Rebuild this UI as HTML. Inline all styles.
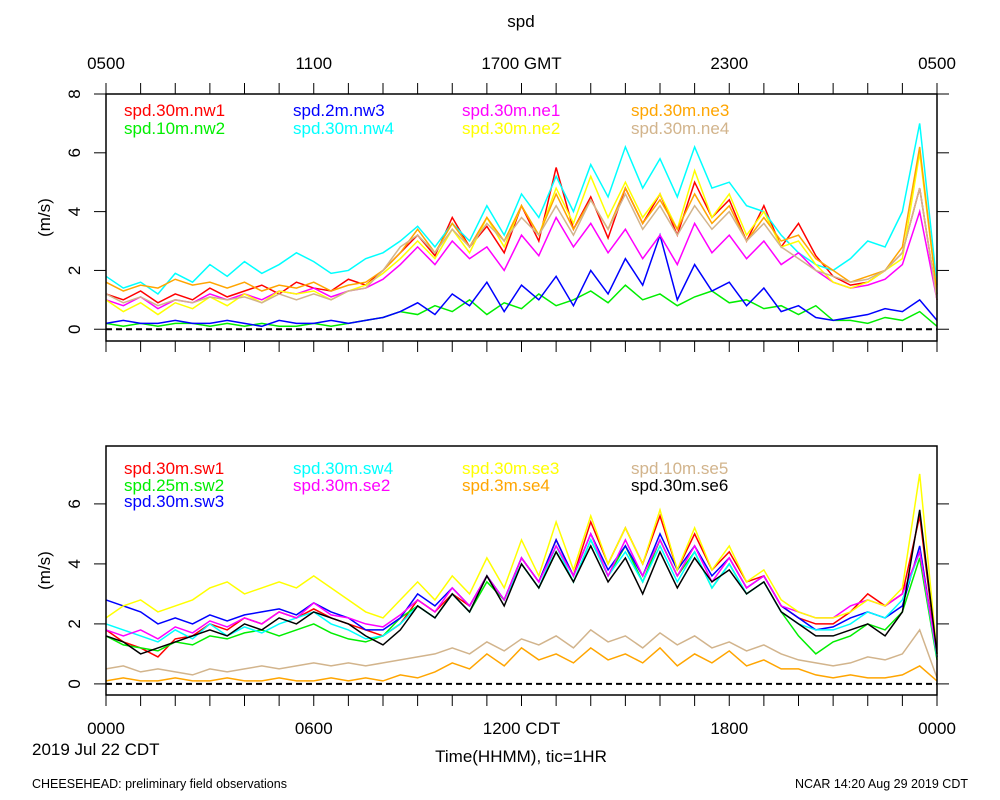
<!DOCTYPE html>
<html><head><meta charset="utf-8"><style>
body{margin:0;background:#fff}
svg{display:block;font-family:"Liberation Sans",sans-serif}
</style></head><body>
<svg id="c" width="1000" height="800"></svg>
<script>
const hours=[];for(let i=0;i<=48;i++)hours.push(i*0.5);
const xTickLabelsBottom=["0000","0600","1200 CDT","1800","0000"];
const xTickLabelsTop=["0500","1100","1700 GMT","2300","0500"];
const topYTicks=[0,2,4,6,8];
const botYTicks=[0,2,4,6];
const topNames=["spd.30m.nw1","spd.10m.nw2","spd.2m.nw3","spd.30m.nw4","spd.30m.ne1","spd.30m.ne2","spd.30m.ne3","spd.30m.ne4"];
const topColors=["#ff0000","#00ee00","#0000ff","#00ffff","#ff00ff","#ffff00","#ffa500","#d2b48c"];
const nw1=[1.2,1.0,1.3,0.9,1.2,1.0,1.4,1.1,1.3,1.5,1.2,1.6,1.4,1.3,1.7,1.5,2.0,2.6,3.2,2.5,3.8,2.8,3.5,2.6,4.2,3.0,5.5,3.4,4.5,3.1,4.8,3.6,4.6,3.2,5.0,3.8,4.4,3.0,4.2,2.8,3.6,2.5,1.8,1.5,1.6,2.0,2.6,4.8,1.0];
const nw2=[0.2,0.1,0.2,0.1,0.2,0.2,0.1,0.2,0.1,0.2,0.1,0.1,0.2,0.1,0.2,0.3,0.4,0.6,0.5,0.8,0.6,1.0,0.5,0.9,0.7,1.2,0.8,1.0,1.3,0.9,1.5,1.0,1.2,0.8,1.1,1.3,0.9,1.0,0.7,0.8,0.5,0.8,0.3,0.3,0.2,0.4,0.3,0.6,0.1];
const nw3=[0.2,0.3,0.2,0.2,0.3,0.2,0.2,0.3,0.2,0.1,0.3,0.2,0.2,0.3,0.2,0.3,0.4,0.6,0.9,0.5,1.2,0.8,1.6,0.6,1.5,1.0,1.8,0.8,2.0,1.2,2.4,1.5,3.2,1.0,2.2,1.3,1.6,0.8,1.4,0.6,0.8,0.4,0.3,0.4,0.5,0.7,0.6,1.0,0.3];
const nw4=[1.8,1.4,1.6,1.2,1.9,1.6,2.2,1.8,2.3,1.9,2.2,2.6,2.3,1.9,2.0,2.4,2.6,3.0,3.5,2.8,3.6,3.0,4.2,3.2,4.6,3.8,5.2,4.0,5.6,4.5,6.2,4.8,5.8,4.5,6.2,4.8,5.0,4.2,4.0,3.2,2.6,2.2,2.0,2.4,3.0,2.8,4.0,7.0,1.5];
const ne1=[1.0,0.8,1.1,0.7,1.0,0.9,1.2,1.0,1.2,1.0,1.3,1.2,1.4,1.1,1.3,1.4,1.7,2.2,2.8,2.2,3.0,2.4,2.8,2.0,3.2,2.5,3.8,2.8,3.6,2.6,3.4,2.4,3.2,2.2,3.6,2.6,3.2,2.4,3.0,2.2,2.6,2.0,1.6,1.4,1.5,1.7,2.2,4.0,1.0];
const ne2=[1.0,0.6,0.9,0.5,0.9,0.7,1.1,0.8,1.2,0.9,1.3,1.2,1.3,1.0,1.3,1.5,1.9,2.4,3.0,2.4,3.4,2.6,3.8,2.8,4.2,3.2,4.8,3.6,5.2,3.8,5.0,3.8,4.6,3.4,5.4,3.8,4.6,3.2,4.0,2.8,3.0,2.2,1.6,1.4,1.6,2.0,2.4,6.0,1.2];
const ne3=[1.6,1.3,1.5,1.4,1.7,1.5,1.6,1.4,1.6,1.3,1.5,1.4,1.6,1.3,1.5,1.6,2.0,2.6,3.4,2.6,3.6,2.8,3.8,3.0,4.2,3.2,4.6,3.4,4.4,3.4,4.8,3.6,4.4,3.4,4.6,3.6,4.2,3.0,3.8,3.0,3.2,2.4,2.0,1.6,1.8,2.0,2.8,6.2,1.2];
const ne4=[1.2,0.9,1.1,0.8,1.0,0.9,1.1,1.0,1.1,0.9,1.2,1.0,1.2,1.0,1.3,1.4,2.0,2.8,3.2,2.6,3.4,2.8,3.6,3.0,3.8,3.2,4.2,3.2,4.4,3.4,4.6,3.4,4.2,3.2,4.2,3.4,4.0,3.0,3.6,2.8,2.4,2.0,1.8,1.6,1.7,2.0,2.6,4.8,1.0];
const botNames=["spd.30m.sw1","spd.25m.sw2","spd.30m.sw3","spd.30m.sw4","spd.30m.se2","spd.30m.se3","spd.3m.se4","spd.10m.se5","spd.30m.se6"];
const botColors=["#ff0000","#00ee00","#0000ff","#00ffff","#ff00ff","#ffff00","#ffa500","#d2b48c","#000000"];
const sw1=[1.8,1.4,1.2,0.9,1.5,1.6,2.0,1.8,2.2,2.0,2.4,2.2,2.5,2.2,2.0,1.8,1.6,2.0,2.8,2.4,3.0,2.6,3.6,2.8,4.2,3.4,4.8,3.6,5.4,4.0,5.2,4.0,5.6,3.8,5.0,3.8,4.4,3.4,3.6,2.6,2.2,2.0,2.0,2.4,3.0,2.6,3.0,5.6,0.9];
const sw2=[1.6,1.3,1.2,1.1,1.4,1.3,1.6,1.5,1.7,1.8,1.6,1.8,2.0,1.7,1.5,1.4,1.6,2.2,2.6,2.2,3.0,2.4,3.4,2.8,4.0,3.2,4.4,3.4,4.8,3.6,4.6,3.4,4.8,3.6,4.4,3.2,4.0,3.0,3.4,2.4,1.6,1.0,1.4,1.6,2.0,1.8,2.4,4.2,0.8];
const sw3=[2.8,2.6,2.4,2.0,2.2,2.0,2.3,2.1,2.3,2.4,2.5,2.3,2.7,2.4,2.2,1.8,1.8,2.2,3.0,2.6,3.2,2.6,3.6,2.8,4.2,3.4,4.8,3.6,5.0,3.8,4.6,3.6,5.0,3.8,4.6,3.6,4.2,3.2,3.6,2.6,2.2,1.8,1.9,2.2,2.4,2.2,2.6,4.6,0.9];
const sw4=[2.0,1.8,1.6,1.4,1.8,1.5,2.0,1.6,1.9,1.7,2.0,2.2,2.4,2.0,1.8,1.5,1.6,2.0,2.6,2.2,3.0,2.4,3.6,2.8,4.0,3.2,4.6,3.4,4.8,3.6,4.4,3.4,4.6,3.4,4.4,3.2,4.0,3.0,3.4,2.4,2.0,1.8,1.8,2.0,2.4,2.2,2.8,4.4,0.9];
const se2=[1.8,1.6,1.8,1.5,1.9,1.7,2.1,1.9,2.2,2.0,2.4,2.2,2.7,2.3,2.2,2.0,1.9,2.3,2.8,2.4,3.2,2.6,3.6,2.8,4.2,3.4,4.6,3.6,5.0,3.6,4.8,3.6,4.8,3.6,4.6,3.4,4.2,3.2,3.6,2.6,2.4,2.2,2.2,2.6,2.8,2.6,3.0,4.4,1.0];
const se3=[2.2,2.6,2.8,2.4,2.6,2.8,3.2,3.4,3.0,3.2,3.4,3.2,3.6,3.2,2.8,2.4,2.2,2.8,3.4,2.8,3.6,3.0,4.2,3.2,4.8,3.6,5.4,3.8,5.6,4.0,5.2,4.0,5.8,3.8,5.2,3.8,4.6,3.4,3.8,2.8,2.4,2.2,2.2,2.4,2.8,2.6,3.2,7.0,1.0];
const se4=[0.1,0.2,0.1,0.1,0.2,0.1,0.1,0.2,0.1,0.1,0.2,0.1,0.1,0.2,0.1,0.2,0.1,0.3,0.2,0.4,0.7,0.5,1.0,0.6,1.2,0.8,1.0,0.7,1.2,0.8,1.0,0.7,1.2,0.6,1.0,0.7,1.1,0.6,0.8,0.5,0.5,0.3,0.2,0.3,0.2,0.2,0.3,0.6,0.1];
const se5=[0.5,0.6,0.4,0.5,0.4,0.3,0.5,0.4,0.5,0.6,0.5,0.6,0.7,0.6,0.7,0.6,0.7,0.8,0.9,1.0,1.2,1.0,1.4,1.1,1.5,1.3,1.6,1.2,1.8,1.4,1.6,1.2,1.7,1.3,1.6,1.2,1.4,1.1,1.3,1.0,0.8,0.7,0.6,0.7,0.9,0.8,1.0,1.8,0.2];
const se6=[1.6,1.4,1.0,1.2,1.4,1.6,1.8,1.6,2.0,1.8,2.2,2.0,2.4,2.2,2.0,1.6,1.3,1.8,2.6,2.2,3.0,2.4,3.6,2.6,4.0,3.2,4.4,3.4,4.6,3.4,4.2,3.0,4.4,3.2,4.2,3.4,3.8,3.0,3.4,2.4,2.0,1.6,1.6,1.8,2.0,1.6,2.4,5.8,1.0];
const topSeries=[nw1,nw2,nw3,nw4,ne1,ne2,ne3,ne4];
const botSeries=[sw1,sw2,sw3,sw4,se2,se3,se4,se5,se6];

const NS="http://www.w3.org/2000/svg";
const svg=document.getElementById("c");
function mk(tag,attrs,parent){const e=document.createElementNS(NS,tag);for(const k in attrs)e.setAttribute(k,attrs[k]);(parent||svg).appendChild(e);return e;}
function txt(s,attrs,parent){const e=mk("text",attrs,parent);e.textContent=s;return e;}
const X0=106,X1=937;
const xs=h=>X0+(X1-X0)*h/24;

function panel(name,top,bot,ymin,ymax,yticks,series,colors,names,legendPos,topLabels){
  const g=mk("g",{});
  
  
  const ys=v=>bot-(v-ymin)/(ymax-ymin)*(bot-top);
  // series
  series.forEach((s,i)=>{
    const p=mk("polyline",{points:s.map((v,j)=>xs(hours[j])+","+ys(v)).join(" "),fill:"none",stroke:colors[i],"stroke-width":1.5},g);
    
    
  });
  const z=mk("line",{x1:X0,x2:X1,y1:ys(0),y2:ys(0),stroke:"#000","stroke-width":2,"stroke-dasharray":"6,4"},g);
  
  
  const fr=mk("rect",{x:X0,y:top,width:X1-X0,height:bot-top,fill:"none",stroke:"#000","stroke-width":1.5},g);
  
  
  for(let h=0;h<=24;h++){
    mk("line",{x1:xs(h),x2:xs(h),y1:bot,y2:bot+11,stroke:"#000"},g);
    if(topLabels)mk("line",{x1:xs(h),x2:xs(h),y1:top,y2:top-11,stroke:"#000"},g);
  }
  yticks.forEach(v=>{
    mk("line",{x1:X0-12,x2:X0,y1:ys(v),y2:ys(v),stroke:"#000"},g);
    mk("line",{x1:X1,x2:X1+12,y1:ys(v),y2:ys(v),stroke:"#000"},g);
    const t=txt(String(v),{x:0,y:0,"font-size":17,"text-anchor":"middle",transform:`translate(80,${ys(v)}) rotate(-90)`},g);
    
    
  });
  const yl=txt("(m/s)",{x:0,y:0,"font-size":17,"text-anchor":"middle",transform:`translate(50,${(top+bot)/2}) rotate(-90)`},g);
  
  
  if(topLabels){topLabels.forEach((l,i)=>{const t=txt(l,{x:xs(i*6),y:69,"font-size":17,"text-anchor":"middle"},g);
    
    });}
  names.forEach((n,i)=>{const t=txt(n,{x:legendPos[i][0],y:legendPos[i][1],"font-size":17,fill:colors[i]},g);
    
    });
}
const title=txt("spd",{x:521,y:27,"font-size":17,"text-anchor":"middle"});


panel("top-panel",94,341,-0.4,8,topYTicks,topSeries,topColors,topNames,
  [[124,116],[124,134],[293,116],[293,134],[462,116],[462,134],[631,116],[631,134]],xTickLabelsTop);
panel("bottom-panel",446,695,-0.37,7.93,botYTicks,botSeries,botColors,botNames,
  [[124,474],[124,491],[124,507],[293,474],[293,491],[462,474],[462,491],[631,474],[631,491]],null);
xTickLabelsBottom.forEach((l,i)=>{const t=txt(l,{x:xs(i*6),y:734,"font-size":17,"text-anchor":"middle"});
  
  });
const d=txt("2019 Jul 22 CDT",{x:32,y:755,"font-size":17});


const xt=txt("Time(HHMM), tic=1HR",{x:521,y:762,"font-size":17,"text-anchor":"middle"});


const f1=txt("CHEESEHEAD: preliminary field observations",{x:32,y:788,"font-size":12.5});


const f2=txt("NCAR 14:20 Aug 29 2019 CDT",{x:968,y:788,"font-size":12.5,"text-anchor":"end"});


</script>
</body></html>
